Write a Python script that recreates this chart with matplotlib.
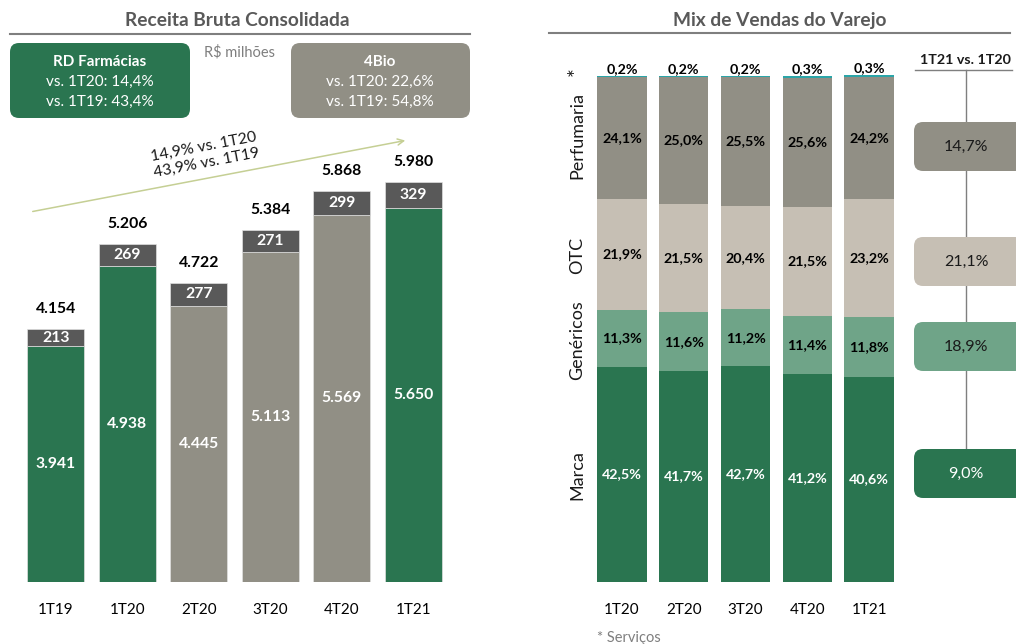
import matplotlib.pyplot as plt
from matplotlib.patches import FancyBboxPatch

# ---- dados ----
trim_receita = ["1T19", "1T20", "2T20", "3T20", "4T20", "1T21"]
receita_varejo = [3941, 4938, 4445, 5113, 5569, 5650]
receita_4bio = [213, 269, 277, 271, 299, 329]
receita_total = [4154, 5206, 4722, 5384, 5868, 5980]

trim_mix = ["1T20", "2T20", "3T20", "4T20", "1T21"]
mix_marca = [42.5, 41.7, 42.7, 41.2, 40.6]
mix_genericos = [11.3, 11.6, 11.2, 11.4, 11.8]
mix_otc = [21.9, 21.5, 20.4, 21.5, 23.2]
mix_perfumaria = [24.1, 25.0, 25.5, 25.6, 24.2]
mix_servicos = [0.2, 0.2, 0.2, 0.3, 0.3]
cresc_categoria = ["14,7%", "21,1%", "18,9%", "9,0%"]

COR_VERDE = "#2a7550"
COR_CINZA = "#918f85"
COR_ESCURO = "#595959"
COR_OTC = "#c6bfb4"
COR_GEN = "#6fa488"
COR_SERV = "#2ba5a8"
COR_TITULO = "#595959"

plt.rcParams.update({"font.family": ["Lato", "DejaVu Sans"], "font.size": 11})

W, H = 1016, 644
fig = plt.figure(figsize=(W / 100, H / 100), dpi=100)

# camada de anotações em pixels (1 unidade = 1 px)
ov = fig.add_axes([0, 0, 1, 1])
ov.set_xlim(0, W)
ov.set_ylim(H, 0)
ov.axis("off")


def br(v):
    return f"{v:,}".replace(",", ".")


def pct(v):
    return f"{v:.1f}%".replace(".", ",")


def caixa(x0, y0, w, h, cor):
    ov.add_patch(FancyBboxPatch((x0, y0), w, h, boxstyle="round,pad=0,rounding_size=9",
                                fc=cor, ec="none", zorder=2))


# ---- títulos ----
ov.text(237, 20, "Receita Bruta Consolidada", ha="center", va="center",
        fontsize=13.8, fontweight="bold", color=COR_TITULO)
ov.plot([10, 470], [34, 34], color="#7f7f7f", lw=1.5)
ov.text(780, 20, "Mix de Vendas do Varejo", ha="center", va="center",
        fontsize=13.8, fontweight="bold", color=COR_TITULO)
ov.plot([549, 1010], [33, 33], color="#7f7f7f", lw=1.5)

# caixas de crescimento
caixa(10, 43, 180, 75, COR_VERDE)
ov.text(100, 62, "RD Farmácias", ha="center", va="center", color="white",
        fontsize=11, fontweight="bold", zorder=3)
ov.text(100, 82, "vs. 1T20: 14,4%", ha="center", va="center", color="white",
        fontsize=11, zorder=3)
ov.text(100, 102, "vs. 1T19: 43,4%", ha="center", va="center", color="white",
        fontsize=11, zorder=3)
caixa(291, 43, 179, 75, COR_CINZA)
ov.text(380, 62, "4Bio", ha="center", va="center", color="white",
        fontsize=11, fontweight="bold", zorder=3)
ov.text(380, 82, "vs. 1T20: 22,6%", ha="center", va="center", color="white",
        fontsize=11, zorder=3)
ov.text(380, 102, "vs. 1T19: 54,8%", ha="center", va="center", color="white",
        fontsize=11, zorder=3)
ov.text(240, 52, "R$ milhões", ha="center", va="center", color="#7f7f7f", fontsize=10.5)

# seta de crescimento
ov.annotate("", xy=(408, 140), xytext=(30, 212),
            arrowprops=dict(arrowstyle="->", color="#c5cf94", lw=1.1))
ov.text(205, 155, "14,9% vs. 1T20\n43,9% vs. 1T19", ha="center", va="center",
        rotation=10.8, fontsize=11.3, color="#1a1a1a", linespacing=1.15)

# ---- gráfico da esquerda ----
escala = 0.0808  # px por R$ milhão
base = 1023
ax1 = fig.add_axes([20 / W, 1 - 582 / H, 429 / W, 442 / H])
ax1.set_xlim(-0.5, 5.5)
ax1.set_ylim(base, base + 442 / escala)
cores = [COR_VERDE, COR_VERDE, COR_CINZA, COR_CINZA, COR_CINZA, COR_VERDE]
x = range(len(trim_receita))
ax1.bar(x, receita_varejo, width=0.8, color=cores, edgecolor="#e0e0e0", lw=0.5)
ax1.bar(x, receita_4bio, bottom=receita_varejo, width=0.8, color=COR_ESCURO,
        edgecolor="#e0e0e0", lw=0.5)
for i in x:
    v, b, t = receita_varejo[i], receita_4bio[i], receita_total[i]
    ax1.text(i, (base + v) / 2, br(v), ha="center", va="center", color="white",
             fontsize=11.3, fontweight="bold")
    ax1.text(i, v + b / 2, br(b), ha="center", va="center", color="white",
             fontsize=11.3, fontweight="bold")
    ax1.text(i, v + b + 20 / escala, br(t), ha="center", va="center", color="black",
             fontsize=11.3, fontweight="bold")
ax1.set_xticks(list(x))
ax1.set_xticklabels(trim_receita, fontsize=11)
ax1.tick_params(axis="x", length=0, pad=15)
ax1.set_yticks([])
for s in ax1.spines.values():
    s.set_visible(False)
ax1.patch.set_alpha(0)

# ---- gráfico da direita ----
ppc = 5.06  # px por ponto percentual
ax2 = fig.add_axes([591 / W, 1 - 582 / H, 309 / W, 522 / H])
ax2.set_xlim(-0.5, 4.5)
ax2.set_ylim(0, 522 / ppc)
xm = range(len(trim_mix))
fundo = [0.0] * len(trim_mix)
series = [
    (mix_marca, COR_VERDE, "white"),
    (mix_genericos, COR_GEN, "black"),
    (mix_otc, COR_OTC, "black"),
    (mix_perfumaria, COR_CINZA, "black"),
]
for vals, cor, cor_txt in series:
    ax2.bar(xm, vals, bottom=fundo, width=0.8, color=cor, edgecolor="none")
    for i in xm:
        ax2.text(i, fundo[i] + vals[i] / 2, pct(vals[i]), ha="center", va="center",
                 color=cor_txt, fontsize=10.3, fontweight="bold")
    fundo = [f + v for f, v in zip(fundo, vals)]
ax2.bar(xm, mix_servicos, bottom=fundo, width=0.8, color=COR_SERV, edgecolor="none")
for i in xm:
    ax2.text(i, fundo[i] + mix_servicos[i] + 7 / ppc, pct(mix_servicos[i]),
             ha="center", va="center", color="black", fontsize=10.3, fontweight="bold")
ax2.set_xticks(list(xm))
ax2.set_xticklabels(trim_mix, fontsize=11)
ax2.tick_params(axis="x", length=0, pad=15)
ax2.set_yticks([])
for s in ax2.spines.values():
    s.set_visible(False)
ax2.patch.set_alpha(0)

# rótulos das categorias
for txt, yy, fs in [("*", 72, 15), ("Perfumaria", 135, 13), ("OTC", 255, 13),
                    ("Genéricos", 340, 13), ("Marca", 475, 13)]:
    ov.text(577, yy, txt, ha="center", va="center", rotation=90, fontsize=fs,
            color="#1a1a1a")

# painel de crescimento
ov.text(965, 60, "1T21 vs. 1T20", ha="center", va="center", fontsize=10.3,
        fontweight="bold", color="#1a1a1a")
ov.plot([915, 1012], [70, 70], color="#7f7f7f", lw=1, zorder=1)
ov.plot([966, 966], [70, 450], color="#7f7f7f", lw=1, zorder=1)
caixas_dir = [(122, COR_CINZA, "#1a1a1a"), (237, COR_OTC, "#1a1a1a"),
              (322, COR_GEN, "#1a1a1a"), (449, COR_VERDE, "white")]
for (yy, cor, cor_txt), rot in zip(caixas_dir, cresc_categoria):
    caixa(914, yy, 110, 49, cor)
    ov.text(966, yy + 25, rot, ha="center", va="center", fontsize=11.5,
            color=cor_txt, zorder=3)

ov.text(597, 638, "* Serviços", ha="left", va="center", fontsize=10.5, color="#7f7f7f")

fig.savefig("out.png", dpi=100)
